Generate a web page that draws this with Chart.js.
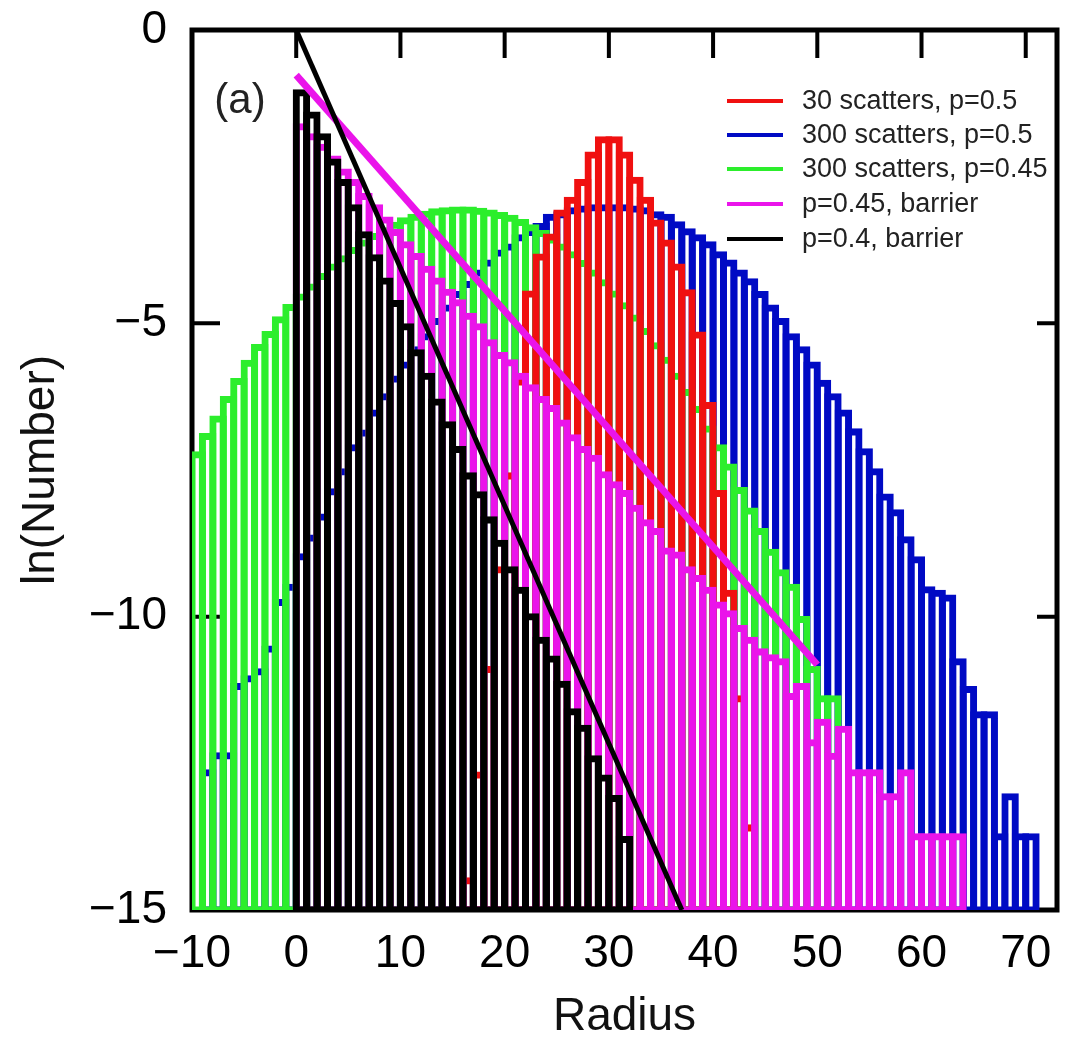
<!DOCTYPE html>
<html lang="en">
<head>
<meta charset="UTF-8">
<title>ln(Number) vs Radius</title>
<script src="https://cdn.jsdelivr.net/npm/chart.js"></script>
<style>
  html, body { margin: 0; padding: 0; background: #fff; }
  #wrap { width: 1076px; height: 1052px; }
</style>
</head>
<body>
<div id="wrap"><canvas id="histChart" width="1076" height="1052"></canvas></div>
<script>
// ln(count) per unit radius bin; each list begins at the bin given by its *Start
const red30Start = 16;
const red30 = [-14.5, -12.7, -10.9, -9.2, -7.6, -6.0, -4.5, -3.87, -3.53, -3.12,
  -2.9, -2.6, -2.13, -1.87, -1.87, -2.13, -2.56, -2.9, -3.29, -3.63,
  -4.04, -4.48, -5.2, -6.4, -7.9, -9.6, -11.4, -13.6];

const blue300Start = -9;
const blue300 = [-12.66, -12.37, -12.37, -11.19, -11.06, -10.94, -10.55, -9.76, -9.5,
  -8.98, -8.66, -8.3, -7.87, -7.53, -7.12, -6.87, -6.53, -6.25, -5.95,
  -5.71, -5.45, -5.23, -4.97, -4.74, -4.51, -4.34, -4.14, -3.97, -3.8,
  -3.7, -3.54, -3.45, -3.35, -3.19, -3.15, -3.08, -3.05, -3.03, -3.03,
  -3.03, -3.03, -3.05, -3.08, -3.15, -3.19, -3.32, -3.44, -3.54, -3.66,
  -3.83, -3.97, -4.14, -4.29, -4.51, -4.74, -4.97, -5.23, -5.45, -5.71,
  -6.02, -6.25, -6.53, -6.85, -7.19, -7.53, -7.96, -8.23, -8.69, -9.03,
  -9.54, -9.6, -9.68, -10.77, -11.24, -11.67, -11.67, -13.75, -13.07, -13.75,
  -13.75];

const green300Start = -10;
const green300 = [-7.24, -6.93, -6.63, -6.3, -5.99, -5.68, -5.41, -5.19, -4.94, -4.73,
  -4.55, -4.38, -4.2, -4.04, -3.9, -3.76, -3.63, -3.52, -3.42, -3.33,
  -3.25, -3.19, -3.14, -3.1, -3.08, -3.07, -3.07, -3.09, -3.12, -3.16,
  -3.21, -3.28, -3.37, -3.47, -3.58, -3.7, -3.83, -3.98, -4.14, -4.31,
  -4.5, -4.7, -4.91, -5.14, -5.38, -5.63, -5.9, -6.18, -6.47, -6.8,
  -7.12, -7.45, -7.85, -8.2, -8.55, -8.9, -9.25, -9.5, -10.05, -10.9,
  -11.4, -11.4];

const barrier045Start = 0;
const barrier045 = [-1.65, -1.82, -2.0, -2.2, -2.42, -2.6, -2.84, -3.03, -3.24, -3.45,
  -3.66, -3.86, -4.08, -4.28, -4.47, -4.65, -4.88, -5.06, -5.33, -5.55,
  -5.67, -5.9, -6.1, -6.3, -6.45, -6.7, -6.95, -7.15, -7.3, -7.58,
  -7.75, -7.9, -8.15, -8.4, -8.55, -8.88, -8.95, -9.2, -9.35, -9.55,
  -9.8, -9.95, -10.2, -10.4, -10.6, -10.7, -10.77, -11.36, -11.19, -12.15,
  -11.8, -12.38, -11.92, -12.66, -12.66, -12.66, -13.07, -13.07, -12.66, -13.75,
  -13.75, -13.75, -13.75, -13.75];

const barrier04Start = 0;
const barrier04 = [-1.07, -1.45, -1.82, -2.25, -2.6, -3.03, -3.49, -3.88, -4.28, -4.66,
  -5.06, -5.5, -5.9, -6.34, -6.73, -7.15, -7.6, -7.92, -8.35, -8.75,
  -9.2, -9.55, -10.0, -10.4, -10.72, -11.15, -11.62, -11.9, -12.42, -12.75,
  -13.1, -13.8];

// straight-line fits (slopes ln(p/(1-p)))
const fit045X = [0, 50];
const fit045Y = [-0.77, -10.82];
const fit04X = [0, 37];
const fit04Y = [0, -15];

const xTicks = [-10, 0, 10, 20, 30, 40, 50, 60, 70];
const yTicks = [0, -5, -10, -15];

const seriesLabels = ['30 scatters, p=0.5', '300 scatters, p=0.5', '300 scatters, p=0.45',
  'p=0.45, barrier', 'p=0.4, barrier'];
const RED = 'rgb(240,16,16)';
const BLUE = 'rgb(0,10,196)';
const GREEN = 'rgb(44,238,44)';
const MAGENTA = 'rgb(234,20,234)';
const BLACK = 'rgb(0,0,0)';
const seriesColors = [RED, BLUE, GREEN, MAGENTA, BLACK];

const FONT = "'Liberation Sans', Arial, Helvetica, sans-serif";

function bins(start, vals) {
  return vals.map((v, i) => ({ x: start + i + 0.5, y: [-15, v] }));
}

// outlined boxes, edge lines centred on the bin edges
function histSet(label, color, start, vals) {
  return {
    type: 'bar',
    label: label,
    data: bins(start, vals),
    borderColor: color,
    backgroundColor: 'rgba(0,0,0,0)',
    borderWidth: 0.01,
    inflateAmount: 3.5,
    borderSkipped: false,
    grouped: false,
    barPercentage: 1,
    categoryPercentage: 1,
    clip: 0
  };
}

function lineSet(label, color, xs, ys, width) {
  return {
    type: 'line',
    label: label,
    data: xs.map((x, i) => ({ x: x, y: ys[i] })),
    borderColor: color,
    borderWidth: width,
    pointRadius: 0,
    fill: false,
    tension: 0,
    clip: 0
  };
}

function fmt(v) {
  return v < 0 ? '\u2212' + Math.abs(v) : String(v);
}

const frame = {
  id: 'frame',
  beforeDatasetsDraw(chart) {
    const { ctx, chartArea: a, scales: { x, y } } = chart;
    ctx.save();
    ctx.strokeStyle = '#000';
    ctx.lineWidth = 5;
    ctx.strokeRect(a.left, a.top, a.right - a.left, a.bottom - a.top);
    ctx.lineWidth = 4;
    ctx.beginPath();
    xTicks.forEach(v => {
      const px = x.getPixelForValue(v);
      ctx.moveTo(px, a.top); ctx.lineTo(px, a.top + 28);
      ctx.moveTo(px, a.bottom); ctx.lineTo(px, a.bottom - 28);
    });
    yTicks.forEach(v => {
      const py = y.getPixelForValue(v);
      ctx.moveTo(a.left, py); ctx.lineTo(a.left + 28, py);
      ctx.moveTo(a.right, py); ctx.lineTo(a.right - 20, py);
    });
    ctx.stroke();
    ctx.restore();
  }
};

const keyBox = {
  id: 'keyBox',
  afterDraw(chart) {
    const { ctx } = chart;
    ctx.save();
    ctx.font = '42px ' + FONT;
    ctx.fillStyle = '#222';
    ctx.textAlign = 'center';
    ctx.textBaseline = 'middle';
    ctx.fillText('(a)', 240, 101);

    ctx.font = '27px ' + FONT;
    ctx.textAlign = 'left';
    const rows = [101, 135, 169, 204, 239];
    seriesLabels.forEach((t, i) => {
      ctx.strokeStyle = seriesColors[i];
      ctx.lineWidth = 4;
      ctx.beginPath();
      ctx.moveTo(727, rows[i]);
      ctx.lineTo(783, rows[i]);
      ctx.stroke();
      ctx.fillText(t, 802, rows[i] + 1);
    });
    ctx.restore();
  }
};

new Chart(document.getElementById('histChart'), {
  type: 'bar',
  data: {
    datasets: [
      lineSet('fit p=0.4', BLACK, fit04X, fit04Y, 5),
      lineSet('fit p=0.45', MAGENTA, fit045X, fit045Y, 7),
      histSet(seriesLabels[4], BLACK, barrier04Start, barrier04),
      histSet(seriesLabels[3], MAGENTA, barrier045Start, barrier045),
      histSet(seriesLabels[0], RED, red30Start, red30),
      histSet(seriesLabels[2], GREEN, green300Start, green300),
      histSet(seriesLabels[1], BLUE, blue300Start, blue300)
    ]
  },
  options: {
    responsive: false,
    animation: false,
    layout: { padding: { top: 30, right: 19, bottom: 0, left: 0 } },
    plugins: { legend: { display: false }, tooltip: { enabled: false } },
    scales: {
      x: {
        type: 'linear',
        min: -10,
        max: 73,
        offset: false,
        afterBuildTicks: s => { s.ticks = xTicks.map(v => ({ value: v })); },
        afterFit: s => { s.height = 142; s.paddingLeft = 0; s.paddingRight = 0; },
        grid: { display: false, drawTicks: false },
        border: { display: false },
        ticks: {
          font: { family: FONT, size: 46 },
          color: '#000',
          padding: 17,
          maxRotation: 0,
          autoSkip: false,
          callback: v => fmt(v)
        },
        title: {
          display: true,
          text: 'Radius',
          font: { family: FONT, size: 46 },
          color: '#111',
          padding: { top: 0, bottom: 7 }
        }
      },
      y: {
        type: 'linear',
        min: -15,
        max: 0,
        afterBuildTicks: s => { s.ticks = yTicks.map(v => ({ value: v })); },
        afterFit: s => { s.width = 192; s.paddingTop = 0; s.paddingBottom = 0; },
        grid: { display: false, drawTicks: false },
        border: { display: false },
        ticks: {
          font: { family: FONT, size: 46 },
          color: '#000',
          padding: 25,
          autoSkip: false,
          callback: v => fmt(v)
        },
        title: {
          display: true,
          text: 'ln(Number)',
          font: { family: FONT, size: 46 },
          color: '#111',
          padding: { top: 14, bottom: 0 }
        }
      }
    }
  },
  plugins: [frame, keyBox]
});
</script>
</body>
</html>
